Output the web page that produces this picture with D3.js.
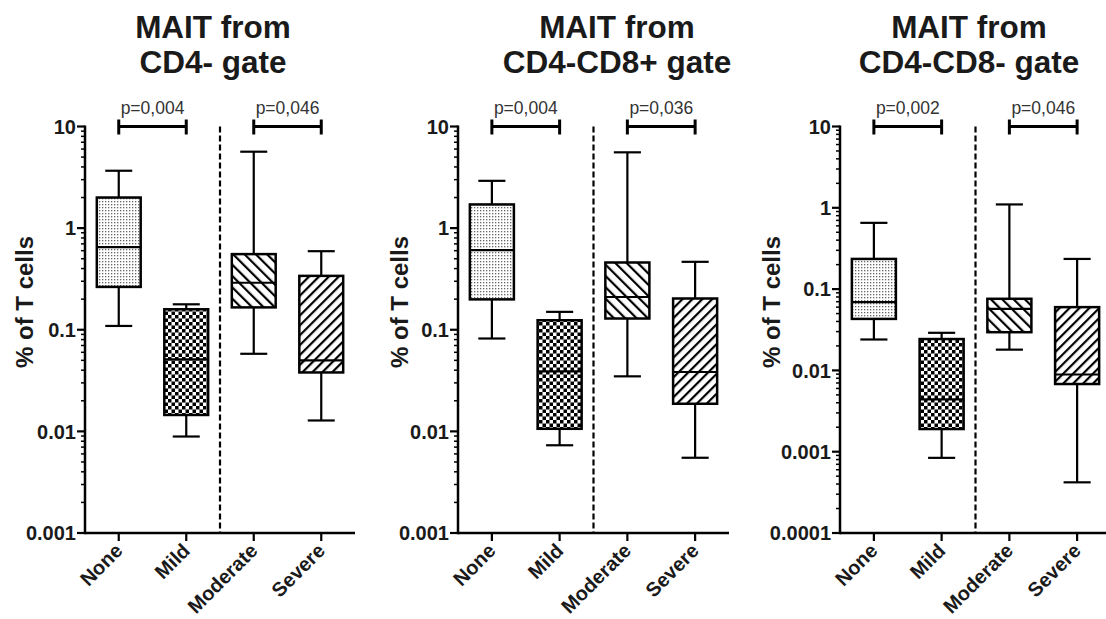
<!DOCTYPE html>
<html>
<head>
<meta charset="utf-8">
<script src="https://cdn.jsdelivr.net/npm/d3@7"></script>
<style>
  body { margin: 0; background: #fff; }
  svg text { font-family: Arial, "Liberation Sans", sans-serif; }
</style>
</head>
<body>
<svg id="chart" width="1106" height="619"></svg>
<script>
// categorias del eje x
var groups = ["None", "Mild", "Moderate", "Severe"];

// cada fila: [min, q1, mediana, q3, max]  (% of T cells)
var cd4neg = [
  [0.109, 0.264, 0.65, 2.0, 3.67],
  [0.0089, 0.0145, 0.051, 0.159, 0.178],
  [0.058, 0.166, 0.29, 0.555, 5.65],
  [0.0128, 0.038, 0.050, 0.339, 0.593]
];
var cd4negCd8pos = [
  [0.082, 0.199, 0.607, 1.71, 2.92],
  [0.0073, 0.0106, 0.039, 0.124, 0.150],
  [0.0348, 0.129, 0.21, 0.459, 5.57],
  [0.0055, 0.0187, 0.0384, 0.203, 0.466]
];
var cd4negCd8neg = [
  [0.024, 0.043, 0.069, 0.235, 0.653],
  [0.00084, 0.0019, 0.0044, 0.0243, 0.029],
  [0.018, 0.0295, 0.057, 0.076, 1.10],
  [0.00042, 0.0068, 0.0089, 0.06, 0.235]
];

var pCd4neg = ["p=0,004", "p=0,046"];
var pCd4negCd8pos = ["p=0,004", "p=0,036"];
var pCd4negCd8neg = ["p=0,002", "p=0,046"];

var ticks4 = [10, 1, 0.1, 0.01, 0.001];
var ticks5 = [10, 1, 0.1, 0.01, 0.001, 0.0001];
var tickLabels = {10: "10", 1: "1", 0.1: "0.1", 0.01: "0.01", 0.001: "0.001", 0.0001: "0.0001"};

var titles = [
  ["MAIT from", "CD4- gate"],
  ["MAIT from", "CD4-CD8+ gate"],
  ["MAIT from", "CD4-CD8- gate"]
];

var pairs = [["None", "Mild"], ["Moderate", "Severe"]];

/* layout de cada panel */
var panels = [
  {data: cd4neg, p: pCd4neg, ticks: ticks4, title: titles[0], ax: 85, right: 355, tx: 213, lx: 33},
  {data: cd4negCd8pos, p: pCd4negCd8pos, ticks: ticks4, title: titles[1], ax: 458, right: 729, tx: 617, lx: 408},
  {data: cd4negCd8neg, p: pCd4negCd8neg, ticks: ticks5, title: titles[2], ax: 840, right: 1111, tx: 969, lx: 780}
];

var yTop = 126.5, yBottom = 533;
var svg = d3.select("#chart");

/* patrones de relleno */
var defs = svg.append("defs");
var dots = defs.append("pattern").attr("id", "dots")
  .attr("patternUnits", "userSpaceOnUse").attr("width", 3).attr("height", 3);
dots.append("rect").attr("width", 3).attr("height", 3).attr("fill", "#fff");
dots.append("rect").attr("width", 1.3).attr("height", 1.3).attr("fill", "#666");

var checker = defs.append("pattern").attr("id", "checker")
  .attr("patternUnits", "userSpaceOnUse").attr("width", 7).attr("height", 7);
checker.append("rect").attr("width", 7).attr("height", 7).attr("fill", "#fff");
checker.append("rect").attr("width", 3.5).attr("height", 3.5).attr("fill", "#000");
checker.append("rect").attr("x", 3.5).attr("y", 3.5).attr("width", 3.5).attr("height", 3.5).attr("fill", "#000");

function hatch(id, size, angle) {
  var p = defs.append("pattern").attr("id", id)
    .attr("patternUnits", "userSpaceOnUse").attr("width", size).attr("height", size)
    .attr("patternTransform", "rotate(" + angle + ")");
  p.append("rect").attr("width", size).attr("height", size).attr("fill", "#fff");
  p.append("line").attr("x1", 1).attr("x2", 1).attr("y1", 0).attr("y2", size)
    .attr("stroke", "#000").attr("stroke-width", 2.4);
}
hatch("back", 8, -45);
hatch("fwd", 7, 45);

var fills = {None: "url(#dots)", Mild: "url(#checker)", Moderate: "url(#back)", Severe: "url(#fwd)"};

panels.forEach(function(pn) {
  var g = svg.append("g");
  var lo = pn.ticks[pn.ticks.length - 1];
  var y = d3.scaleLog().domain([lo, 10]).range([yBottom, yTop]);
  var x = d3.scaleBand().domain(groups).range([pn.ax, pn.right]);
  var bw = x.bandwidth();
  var cx = function(k) { return x(k) + bw / 2; };

  // titulo
  g.append("text").attr("x", pn.tx).attr("y", 38).attr("text-anchor", "middle")
    .attr("font-size", 31.5).attr("font-weight", "bold").attr("fill", "#1a1a1a").text(pn.title[0]);
  g.append("text").attr("x", pn.tx).attr("y", 73).attr("text-anchor", "middle")
    .attr("font-size", 31.5).attr("font-weight", "bold").attr("fill", "#1a1a1a").text(pn.title[1]);

  // etiqueta eje y
  g.append("text").attr("transform", "translate(" + pn.lx + "," + 302 + ") rotate(-90)")
    .attr("text-anchor", "middle").attr("font-size", 24).attr("font-weight", "bold")
    .attr("fill", "#1a1a1a").text("% of T cells");

  // eje y con ticks menores
  var minor = y.ticks().filter(function(t) { return pn.ticks.indexOf(t) < 0 && t <= 10 && t >= lo; });
  g.selectAll(".minor").data(minor).enter().append("line")
    .attr("x1", pn.ax - 4).attr("x2", pn.ax).attr("y1", function(d) { return y(d); }).attr("y2", function(d) { return y(d); })
    .attr("stroke", "#000").attr("stroke-width", 1.5);
  g.selectAll(".major").data(pn.ticks).enter().append("line")
    .attr("x1", pn.ax - 8).attr("x2", pn.ax).attr("y1", function(d) { return y(d); }).attr("y2", function(d) { return y(d); })
    .attr("stroke", "#000").attr("stroke-width", 2.2);
  g.selectAll(".ylab").data(pn.ticks).enter().append("text")
    .attr("x", pn.ax - 9).attr("y", function(d) { return y(d); }).attr("dy", "0.36em")
    .attr("text-anchor", "end").attr("font-size", 20).attr("font-weight", "bold").attr("fill", "#1a1a1a")
    .text(function(d) { return tickLabels[d]; });
  g.append("line").attr("x1", pn.ax).attr("x2", pn.ax).attr("y1", y(10) - 1).attr("y2", yBottom + 1.2)
    .attr("stroke", "#000").attr("stroke-width", 2.5);

  // eje x
  g.append("line").attr("x1", pn.ax).attr("x2", pn.right).attr("y1", yBottom).attr("y2", yBottom)
    .attr("stroke", "#000").attr("stroke-width", 2.5);
  g.selectAll(".xt").data(groups).enter().append("line")
    .attr("x1", cx).attr("x2", cx).attr("y1", yBottom).attr("y2", yBottom + 8)
    .attr("stroke", "#000").attr("stroke-width", 2.2);
  g.selectAll(".xlab").data(groups).enter().append("text")
    .attr("transform", function(d) { return "translate(" + (cx(d) + 5) + "," + (yBottom + 19) + ") rotate(-45)"; })
    .attr("text-anchor", "end").attr("font-size", 20).attr("font-weight", "bold").attr("fill", "#1a1a1a")
    .text(function(d) { return d; });

  // linea divisoria punteada
  var mid = (cx("Mild") + cx("Moderate")) / 2;
  g.append("line").attr("x1", mid).attr("x2", mid).attr("y1", y(10)).attr("y2", yBottom)
    .attr("stroke", "#000").attr("stroke-width", 2.2).attr("stroke-dasharray", "6,3");

  // cajas y bigotes
  var boxW = bw * 0.65, capW = bw * 0.4;
  groups.forEach(function(k, i) {
    var d = pn.data[i], c = cx(k);
    g.append("line").attr("x1", c).attr("x2", c).attr("y1", y(d[0])).attr("y2", y(d[4]))
      .attr("stroke", "#000").attr("stroke-width", 2.2);
    [d[0], d[4]].forEach(function(v) {
      g.append("line").attr("x1", c - capW / 2).attr("x2", c + capW / 2).attr("y1", y(v)).attr("y2", y(v))
        .attr("stroke", "#000").attr("stroke-width", 2.2);
    });
    g.append("rect").attr("x", c - boxW / 2).attr("width", boxW)
      .attr("y", y(d[3])).attr("height", y(d[1]) - y(d[3]))
      .attr("fill", fills[k]).attr("stroke", "#000").attr("stroke-width", 2.5);
    g.append("line").attr("x1", c - boxW / 2).attr("x2", c + boxW / 2).attr("y1", y(d[2])).attr("y2", y(d[2]))
      .attr("stroke", "#000").attr("stroke-width", 2.2);
  });

  // corchetes con valor p
  pairs.forEach(function(pr, j) {
    var a = cx(pr[0]), b = cx(pr[1]), yy = y(10);
    g.append("line").attr("x1", a).attr("x2", b).attr("y1", yy).attr("y2", yy)
      .attr("stroke", "#000").attr("stroke-width", 3);
    [a, b].forEach(function(xx) {
      g.append("line").attr("x1", xx).attr("x2", xx).attr("y1", yy - 7).attr("y2", yy + 8)
        .attr("stroke", "#000").attr("stroke-width", 3);
    });
    g.append("text").attr("x", (a + b) / 2).attr("y", yy - 13).attr("text-anchor", "middle")
      .attr("font-size", 17.5).attr("fill", "#333").text(pn.p[j]);
  });
});
</script>
</body>
</html>
